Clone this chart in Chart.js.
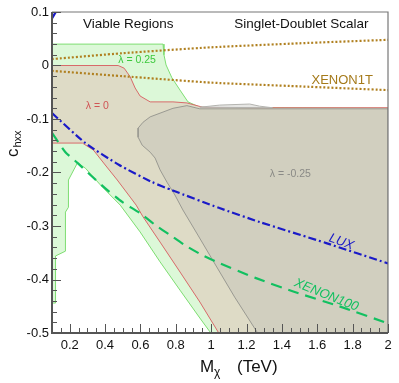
<!DOCTYPE html>
<html>
<head>
<meta charset="utf-8">
<script src="https://cdn.jsdelivr.net/npm/chart.js@4.4.1/dist/chart.umd.min.js"></script>
<style>
  html, body { margin: 0; padding: 0; background: #fff; }
  canvas { display: block; }
</style>
</head>
<body>
<canvas id="chart" width="399" height="383"></canvas>
<script>
// axis ticks
const xTicks = [0.2, 0.4, 0.6, 0.8, 1.0, 1.2, 1.4, 1.6, 1.8, 2.0];
const yTicks = [0.1, 0, -0.1, -0.2, -0.3, -0.4, -0.5];

// XENON1T limits (two dotted lines)
const x1tMass = [0.1, 0.5, 1.0, 1.5, 2.0];
const x1tUpper = [0.012, 0.023, 0.034, 0.0415, 0.048];
const x1tLower = [-0.010, -0.020, -0.032, -0.039, -0.046];

// LUX limit
const luxMass = [0.1, 0.289, 0.480, 0.666, 0.778, 1.043, 1.274, 1.651, 2.0];
const luxC = [-0.089, -0.145, -0.186, -0.218, -0.233, -0.266, -0.2925, -0.332, -0.370];
const luxLowMass = [0.1, 0.125];
const luxLowC = [0.088, 0.102];

// XENON100 limit
const x100Mass = [0.1, 0.176, 0.244, 0.328, 0.413, 0.497, 0.598, 0.683, 0.768, 0.852, 0.947, 1.043, 1.25, 1.46, 1.724, 2.0];
const x100C = [-0.126, -0.162, -0.182, -0.208, -0.233, -0.255, -0.276, -0.298, -0.317, -0.336, -0.354, -0.369, -0.397, -0.422, -0.450, -0.482];

// viable region, lambda = 0.25 (outer outline)
const l25Mass = [0.1, 0.728, 0.733, 0.745, 0.778, 0.824, 0.869, 0.936, 2.0, 2.0, 0.1, 0.1];
const l25C = [0.040, 0.040, 0.020, 0.001, -0.023, -0.046, -0.068, -0.078, -0.080, -0.5, -0.5, 0.040];

// excluded hole inside the lambda = 0.25 region
const holeMass = [0.244, 0.289, 0.373, 0.429, 0.486, 0.598, 0.711, 0.824, 0.936, 0.998, 0.1, 0.1, 0.120, 0.120, 0.176, 0.176, 0.193, 0.193, 0.244];
const holeC = [-0.182, -0.192, -0.223, -0.242, -0.261, -0.311, -0.367, -0.420, -0.472, -0.5, -0.5, -0.444, -0.444, -0.356, -0.347, -0.274, -0.265, -0.214, -0.182];

// viable region, lambda = 0
const l0Mass = [0.1, 0.474, 0.508, 0.542, 0.570, 0.598, 0.655, 0.784, 0.863, 0.953, 1.218, 2.0, 2.0, 1.043, 0.936, 0.824, 0.711, 0.615, 0.576, 0.542, 0.469, 0.401, 0.334, 0.272, 0.1, 0.1];
const l0C = [0.0, 0.0, -0.005, -0.021, -0.042, -0.057, -0.068, -0.068, -0.070, -0.078, -0.079, -0.079, -0.5, -0.5, -0.442, -0.386, -0.330, -0.283, -0.261, -0.246, -0.214, -0.186, -0.158, -0.145, -0.145, 0.0];

// viable region, lambda = -0.25
const lm25Mass = [2.0, 0.936, 0.863, 0.784, 0.728, 0.655, 0.615, 0.587, 0.587, 0.610, 0.655, 0.683, 0.711, 0.750, 0.795, 0.840, 0.925, 1.009, 1.133, 1.263, 2.0, 2.0];
const lm25C = [-0.081, -0.081, -0.075, -0.080, -0.087, -0.096, -0.106, -0.117, -0.134, -0.149, -0.162, -0.173, -0.195, -0.218, -0.242, -0.270, -0.317, -0.364, -0.433, -0.5, -0.5, -0.081];

// small grey bump above the boundary
const bumpMass = [0.936, 1.048, 1.218, 1.274, 1.347, 0.936];
const bumpC = [-0.078, -0.074, -0.072, -0.076, -0.079, -0.078];

function pts(xs, ys) {
    return xs.map((x, i) => ({ x: x, y: ys[i] }));
}

const FONT = "'Liberation Sans', Arial, Helvetica, sans-serif";

function region(data, fill, border, order) {
    return {
        data: data,
        showLine: true,
        fill: 'shape',
        backgroundColor: fill,
        borderColor: border,
        borderWidth: 1,
        pointRadius: 0,
        tension: 0,
        order: order
    };
}

function curve(data, color, dash, order) {
    return {
        data: data,
        showLine: true,
        fill: false,
        borderColor: color,
        borderWidth: 2.2,
        borderDash: dash,
        pointRadius: 0,
        tension: 0.2,
        order: order
    };
}

const decor = {
    id: 'decor',
    afterDatasetsDraw(chart) {
        const ctx = chart.ctx;
        const a = chart.chartArea;
        const xs = chart.scales.x;
        const ys = chart.scales.y;

        ctx.save();
        // frame
        ctx.strokeStyle = '#777';
        ctx.lineWidth = 1.2;
        ctx.beginPath();
        ctx.moveTo(a.left, a.top);
        ctx.lineTo(a.right, a.top);
        ctx.lineTo(a.right, a.bottom);
        ctx.stroke();
        ctx.strokeStyle = '#555';
        ctx.lineWidth = 2;
        ctx.beginPath();
        ctx.moveTo(a.left, a.top);
        ctx.lineTo(a.left, a.bottom);
        ctx.lineTo(a.right, a.bottom);
        ctx.stroke();

        // inward ticks
        ctx.lineWidth = 1;
        ctx.strokeStyle = '#555';
        ctx.beginPath();
        for (let i = 0; i <= 38; i++) {
            const v = 0.1 + i * 0.05;
            const px = Math.round(xs.getPixelForValue(v)) + 0.5;
            const major = (i - 2) % 4 === 0 && i >= 2;
            ctx.moveTo(px, a.bottom);
            ctx.lineTo(px, a.bottom - (major ? 9 : 5));
        }
        for (let i = 0; i <= 30; i++) {
            const v = 0.1 - i * 0.02;
            const py = Math.round(ys.getPixelForValue(v)) + 0.5;
            const major = i % 5 === 0;
            ctx.moveTo(a.left, py);
            ctx.lineTo(a.left + (major ? 9 : 5), py);
        }
        ctx.stroke();

        function text(str, x, y, font, color, angle) {
            ctx.save();
            ctx.translate(xs.getPixelForValue(x), ys.getPixelForValue(y));
            ctx.rotate((angle || 0) * Math.PI / 180);
            ctx.font = font;
            ctx.fillStyle = color;
            ctx.textAlign = 'center';
            ctx.textBaseline = 'middle';
            ctx.fillText(str, 0, 0);
            ctx.restore();
        }

        text('Viable Regions', 0.531, 0.0776, '13.5px ' + FONT, '#111');
        text('Singlet-Doublet Scalar', 1.51, 0.0776, '13.5px ' + FONT, '#111');
        text('\u03bb = 0.25', 0.581, 0.010, '10.5px ' + FONT, '#3cc83c');
        text('\u03bb = 0', 0.356, -0.0757, '10.5px ' + FONT, '#d05555');
        text('\u03bb = -0.25', 1.448, -0.203, '10.5px ' + FONT, '#8a8a86');
        text('XENON1T', 1.741, -0.027, '13px ' + FONT, '#a57a1a');
        text('LUX', 1.736, -0.330, 'italic 13px ' + FONT, '#1a1ac8', 20);
        text('XENON100', 1.651, -0.429, 'italic 13px ' + FONT, '#12c060', 22);

        // axis titles
        ctx.fillStyle = '#111';
        ctx.textAlign = 'left';
        ctx.textBaseline = 'alphabetic';
        ctx.font = '17px ' + FONT;
        ctx.fillText('M', 200, 372);
        ctx.fillText('(TeV)', 237, 372);
        ctx.font = '12px ' + FONT;
        ctx.fillText('\u03c7', 214, 376);

        ctx.save();
        ctx.translate(18, 157);
        ctx.rotate(-Math.PI / 2);
        ctx.font = '17px ' + FONT;
        ctx.fillText('c', 0, 0);
        ctx.font = '11px ' + FONT;
        ctx.fillText('hxx', 9.5, 3);
        ctx.restore();

        ctx.restore();
    }
};

new Chart(document.getElementById('chart'), {
    type: 'scatter',
    data: {
        datasets: [
            curve(pts(x1tMass, x1tUpper), '#b08020', [2, 2], 0),
            curve(pts(x1tMass, x1tLower), '#b08020', [2, 2], 0),
            curve(pts(luxMass, luxC), '#1a1ac8', [8, 3, 2, 3], 0),
            curve(pts(luxLowMass, luxLowC), '#1a1ac8', [8, 3, 2, 3], 0),
            curve(pts(x100Mass, x100C), '#12c060', [11, 7], 0),
            region(pts(lm25Mass, lm25C), '#d1cfbf', '#9a9a92', 5),
            region(pts(bumpMass, bumpC), '#e6e6e4', '#b4b4b0', 6),
            region(pts(l0Mass, l0C), '#dedbc6', '#d86a6a', 7),
            region(pts(holeMass, holeC), '#ffffff', '#7ede72', 8),
            region(pts(l25Mass, l25C), '#dcf8d8', '#7ede72', 9)
        ]
    },
    options: {
        responsive: false,
        animation: false,
        devicePixelRatio: 1,
        layout: { padding: { top: 12, right: 11, left: 0, bottom: 0 } },
        plugins: {
            legend: { display: false },
            tooltip: { enabled: false }
        },
        scales: {
            x: {
                type: 'linear',
                min: 0.1,
                max: 2,
                grid: { display: false, drawTicks: false },
                border: { display: false },
                afterBuildTicks: s => { s.ticks = xTicks.map(v => ({ value: v })); },
                afterFit: s => { s.height = 50; },
                ticks: {
                    padding: 5,
                    color: '#111',
                    font: { family: FONT, size: 13 },
                    maxRotation: 0,
                    callback: v => String(Math.round(v * 10) / 10)
                }
            },
            y: {
                type: 'linear',
                min: -0.5,
                max: 0.1,
                grid: { display: false, drawTicks: false },
                border: { display: false },
                afterBuildTicks: s => { s.ticks = yTicks.map(v => ({ value: v })); },
                afterFit: s => { s.width = 52; },
                ticks: {
                    padding: 3,
                    color: '#111',
                    font: { family: FONT, size: 13 },
                    callback: v => String(Math.round(v * 10) / 10)
                }
            }
        }
    },
    plugins: [decor]
});
</script>
</body>
</html>
